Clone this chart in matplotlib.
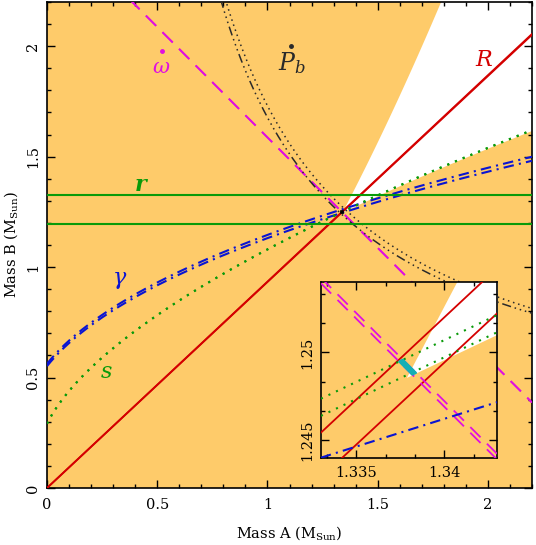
import numpy as np
import matplotlib
matplotlib.use('Agg')
import matplotlib.pyplot as plt
from matplotlib.ticker import MultipleLocator, FuncFormatter
from matplotlib.patches import Rectangle

plt.rcParams['font.family'] = ['DejaVu Serif']
plt.rcParams['mathtext.fontset'] = 'dejavuserif'

# ---------------- data (constraint values) ----------------
R_ratio = [1.0703, 1.0725]          # mass ratio mA/mB bounds
omega_M = [2.58692, 2.58724]        # total mass from periastron advance
pbdot_c = [1.208, 1.238]            # mA*mB/M^(1/3) from orbital decay
gamma_g = [1.3454, 1.3625]          # mB(mA+2mB)/M^(4/3) from gamma
s_k = [1.5082, 1.5090]              # M^(2/3)/mB from Shapiro shape s
r_mB = [1.195, 1.326]               # mB from Shapiro range r
massfn_kA = 1.5091                  # sin i <= 1 for pulsar A
massfn_kB = 1.4084                  # sin i <= 1 for pulsar B

main_xlim = [0.0, 2.2]
main_ylim = [0.0, 2.2]
inset_xlim = [1.333, 1.343]
inset_ylim = [1.244, 1.254]

main_xticks = [0, 0.5, 1, 1.5, 2]
main_yticks = [0, 0.5, 1, 1.5, 2]
inset_xticks = [1.335, 1.34]
inset_yticks = [1.245, 1.25]

labels = {
    'omega': ('ω', 0.518, 1.905),
    'pbdot': (r'$P_b$', 1.112, 1.925),
    'R': ('R', 1.982, 1.937),
    'r': ('r', 0.424, 1.371),
    'gamma': ('γ', 0.330, 0.950),
    's': ('s', 0.271, 0.525),
}

# ---------------- colours ----------------
ORANGE = '#FECB6A'
RED = '#D40000'
MAG = '#E010E0'
GREEN = '#0A9A0A'
BLUE = '#0A14D2'
DARK = '#2A2A2A'
CYAN = '#13AFB5'


def bisect_y(f, xs, lo=1e-9, hi=20.0, n=70):
    a = np.full_like(xs, lo, dtype=float)
    b = np.full_like(xs, hi, dtype=float)
    for _ in range(n):
        m = 0.5 * (a + b)
        neg = f(xs, m) < 0
        a = np.where(neg, m, a)
        b = np.where(neg, b, m)
    y = 0.5 * (a + b)
    y[y > hi * 0.99] = np.nan
    return y


def f_pbdot(c):
    return lambda x, y: x * y / (x + y) ** (1 / 3) - c


def f_gamma(g):
    return lambda x, y: y * (x + 2 * y) - g * (x + y) ** (4 / 3)


def f_s(k):
    return lambda x, y: k * y - (x + y) ** (2 / 3)


def draw(ax, xs):
    ax.set_facecolor(ORANGE)
    # allowed (white) region from the two mass functions
    y_lo = bisect_y(f_s(massfn_kA), xs)
    y_hi = (massfn_kB * xs) ** 1.5 - xs
    ax.fill_between(xs, y_lo, y_hi, where=y_hi >= y_lo, interpolate=True,
                    color='white', lw=0, zorder=1)
    lw = 1.3
    for R in R_ratio:
        ax.plot(xs, xs / R, color=RED, lw=lw, zorder=3)
    for M in omega_M:
        ax.plot(xs, M - xs, color=MAG, lw=lw, ls=(0, (8, 5)), zorder=3)
    pb_styles = [(0, (6, 2.5, 1, 2.5, 1, 2.5, 1, 2.5)), (0, (1, 2.5))]
    for c, st in zip(pbdot_c, pb_styles):
        ax.plot(xs, bisect_y(f_pbdot(c), xs), color=DARK, lw=1.1, ls=st, zorder=3)
    for g in gamma_g:
        ax.plot(xs, bisect_y(f_gamma(g), xs), color=BLUE, lw=1.5,
                ls=(0, (5, 2.5, 1, 2.5)), zorder=3)
    for k in s_k:
        ax.plot(xs, bisect_y(f_s(k), xs), color=GREEN, lw=1.5, ls=(0, (1, 3)), zorder=3)
    for yb in r_mB:
        ax.axhline(yb, color=GREEN, lw=1.5, zorder=3)


def style_axes(ax, xticks, yticks, minor, fmt, xpad, ypad):
    ax.set_xticks(xticks)
    ax.set_yticks(yticks)
    ax.xaxis.set_minor_locator(MultipleLocator(minor))
    ax.yaxis.set_minor_locator(MultipleLocator(minor))
    ax.xaxis.set_major_formatter(fmt)
    ax.yaxis.set_major_formatter(fmt)
    ax.tick_params(which='both', direction='in', top=True, right=True, width=1.0,
                   labelsize=10.5)
    ax.tick_params(which='major', length=6)
    ax.tick_params(which='minor', length=3)
    ax.tick_params(axis='x', pad=xpad)
    ax.tick_params(axis='y', pad=ypad)
    for t in ax.get_yticklabels():
        t.set_rotation(90)
        t.set_va('center')
    for sp in ax.spines.values():
        sp.set_linewidth(1.2)


fig = plt.figure(figsize=(5.36, 5.45), dpi=100)
W, H = 536.0, 545.0
ax = fig.add_axes([47 / W, (H - 488) / H, 485 / W, 486 / H])
xs_main = np.linspace(1e-4, 2.2, 3000)
draw(ax, xs_main)
ax.add_patch(Rectangle((inset_xlim[0], inset_ylim[0]),
                       inset_xlim[1] - inset_xlim[0], inset_ylim[1] - inset_ylim[0],
                       fill=False, ec='black', lw=1.2, zorder=4))
ax.set_xlim(main_xlim)
ax.set_ylim(main_ylim)
fmt = FuncFormatter(lambda v, p: '%g' % v)
style_axes(ax, main_xticks, main_yticks, 0.1, fmt, 7, 5)
ax.set_xlabel(r'Mass A (M$_{\rm Sun}$)', fontsize=10.5)
ax.set_ylabel(r'Mass B (M$_{\rm Sun}$)', fontsize=10.5)
ax.xaxis.set_label_coords(0.5, -(524 - 488) / 486)
ax.yaxis.set_label_coords(-(47 - 20) / 485, 0.5)

# text labels
t, x, y = labels['omega']
ax.text(x, y, t, color=MAG, fontsize=15, style='italic', ha='center', va='center', zorder=5)
ax.plot([x + 0.004], [y + 0.074], 'o', ms=2.5, color=MAG, zorder=5)
t, x, y = labels['pbdot']
ax.text(x, y, t, color=DARK, fontsize=17, ha='center', va='center', zorder=5)
ax.plot([x - 0.007], [y + 0.076], 'o', ms=2.5, color=DARK, zorder=5)
t, x, y = labels['R']
ax.text(x, y, t, color=RED, fontsize=16, style='italic', ha='center', va='center', zorder=5)
t, x, y = labels['r']
ax.text(x, y, t, color=GREEN, fontsize=16, style='italic', fontweight='bold',
        ha='center', va='center', zorder=5)
t, x, y = labels['gamma']
ax.text(x, y, t, color=BLUE, fontsize=16, style='italic', ha='center', va='center', zorder=5)
t, x, y = labels['s']
ax.text(x, y, t, color=GREEN, fontsize=16, style='italic', ha='center', va='center', zorder=5)

# ---------------- inset ----------------
axi = fig.add_axes([321 / W, (H - 458) / H, 176 / W, 176 / H], zorder=10)
xs_in = np.linspace(inset_xlim[0] - 0.001, inset_xlim[1] + 0.001, 2000)
draw(axi, xs_in)
gx = np.linspace(inset_xlim[0], inset_xlim[1], 700)
gy = np.linspace(inset_ylim[0], inset_ylim[1], 700)
GX, GY = np.meshgrid(gx, gy)
GM = GX + GY
GK = GM ** (2 / 3) / GY
inside = ((GM >= omega_M[0]) & (GM <= omega_M[1]) &
          (GK >= s_k[0]) & (GK <= massfn_kA)).astype(float)
axi.contourf(GX, GY, inside, levels=[0.5, 1.5], colors=[CYAN], zorder=6)
axi.contour(GX, GY, inside, levels=[0.5], colors=[CYAN], linewidths=1.5, zorder=6)
axi.set_xlim(inset_xlim)
axi.set_ylim(inset_ylim)
style_axes(axi, inset_xticks, inset_yticks, 0.005 / 3, fmt, 6, 5)

fig.savefig('out.png', dpi=100)
